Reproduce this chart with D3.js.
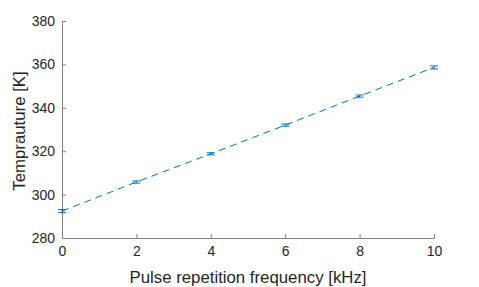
<!DOCTYPE html>
<html><head><meta charset="utf-8">
<script src="https://cdn.jsdelivr.net/npm/d3@7"></script>
<style>body{margin:0;background:#fff}svg{display:block}</style>
</head><body>
<script>
const freqs = [0, 2, 4, 6, 8, 10];
const temps = [292.4, 305.8, 318.8, 332.0, 345.4, 358.6];
const errs = [0.7, 0.5, 0.5, 0.5, 0.5, 0.7];
const xTicks = [0, 2, 4, 6, 8, 10];
const yTicks = [280, 300, 320, 340, 360, 380];

const W = 479, H = 287;
const m = {left: 62, right: 45, top: 21, bottom: 49};
const svg = d3.select("body").append("svg").attr("width", W).attr("height", H);
const x = d3.scaleLinear().domain([0, 10]).range([m.left, W - m.right]);
const y = d3.scaleLinear().domain([280, 380]).range([H - m.bottom, m.top]);
const font = "Liberation Sans, Arial, Helvetica, sans-serif";
const axCol = "#262626";

const gx = svg.append("g").attr("transform", `translate(0,${H - m.bottom})`)
  .call(d3.axisBottom(x).tickValues(xTicks).tickSizeInner(-4).tickSizeOuter(-4).tickPadding(8).tickFormat(d3.format("d")));
const gy = svg.append("g").attr("transform", `translate(${m.left},0)`)
  .call(d3.axisLeft(y).tickValues(yTicks).tickSizeInner(-4).tickSizeOuter(-4).tickPadding(7).tickFormat(d3.format("d")));
[gx, gy].forEach(g => {
  g.selectAll("path,line").attr("stroke", "#808080").attr("stroke-width", 1);
  g.selectAll("text").attr("fill", axCol).style("font-family", font).style("font-size", "14px");
});

svg.append("text").attr("x", (m.left + W - m.right) / 2).attr("y", 283)
  .attr("text-anchor", "middle").style("font-family", font).style("font-size", "16.8px").attr("fill", axCol)
  .text("Pulse repetition frequency [kHz]");
svg.append("text").attr("transform", `translate(25,131) rotate(-90)`)
  .attr("text-anchor", "middle").style("font-family", font).style("font-size", "16.8px").attr("fill", axCol)
  .text("Temprauture [K]");

const col = "#0072BD";
const data = freqs.map((f, i) => ({f, t: temps[i], e: errs[i]}));
svg.append("path").datum(data)
  .attr("d", d3.line().x(d => x(d.f)).y(d => y(d.t)))
  .attr("fill", "none").attr("stroke", col).attr("stroke-width", 1).attr("stroke-dasharray", "7,5");
const eb = svg.append("g").selectAll("g").data(data).join("g").attr("stroke", col).attr("stroke-width", 1);
eb.append("line").attr("x1", d => x(d.f)).attr("x2", d => x(d.f)).attr("y1", d => y(d.t - d.e)).attr("y2", d => y(d.t + d.e));
eb.append("line").attr("x1", d => x(d.f) - 4).attr("x2", d => x(d.f) + 4).attr("y1", d => y(d.t - d.e)).attr("y2", d => y(d.t - d.e));
eb.append("line").attr("x1", d => x(d.f) - 4).attr("x2", d => x(d.f) + 4).attr("y1", d => y(d.t + d.e)).attr("y2", d => y(d.t + d.e));
</script>
</body></html>
